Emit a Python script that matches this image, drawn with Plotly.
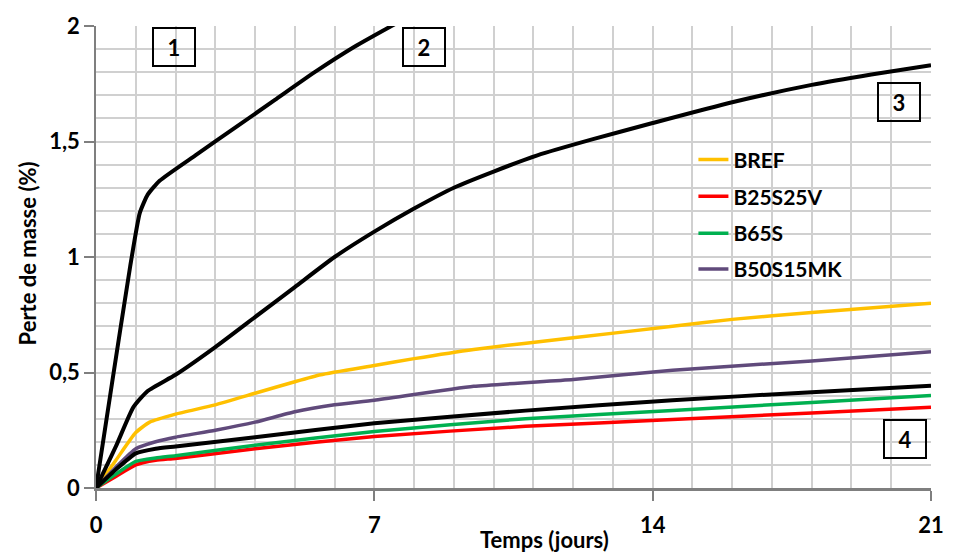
import plotly.graph_objects as go

# ---- data ----
c1_x = [0, 0.4, 0.86, 1.1, 1.3, 1.6, 2.5, 3.5, 4.5, 5.5, 6.5, 7.43, 8.5]
c1_y = [0, 0.45, 0.96, 1.19, 1.27, 1.33, 1.44, 1.56, 1.68, 1.80, 1.91, 2.0, 2.1]

c2_x = [0, 0.5, 0.94, 1.3, 2, 3, 4, 5, 6, 7, 8, 9, 10, 11.1, 12.5, 14, 16, 18, 19.5, 21]
c2_y = [0, 0.18, 0.35, 0.42, 0.49, 0.61, 0.74, 0.87, 1.0, 1.11, 1.21, 1.3, 1.37, 1.44, 1.51, 1.58, 1.67, 1.745, 1.79, 1.83]

c4_x = [0, 0.5, 1, 1.5, 2, 4, 7, 10.8, 14.5, 18, 21]
c4_y = [0, 0.08, 0.15, 0.17, 0.18, 0.22, 0.28, 0.335, 0.38, 0.415, 0.443]

bref_x = [0, 0.5, 1, 1.35, 2, 3, 4, 5, 5.65, 7, 8, 9.5, 12, 14.5, 16, 18, 21]
bref_y = [0, 0.12, 0.24, 0.285, 0.32, 0.36, 0.41, 0.46, 0.49, 0.53, 0.56, 0.6, 0.65, 0.7, 0.73, 0.76, 0.80]

b25_x = [0, 0.5, 1, 1.5, 2, 4, 7, 10.8, 14.5, 18, 21]
b25_y = [0, 0.05, 0.10, 0.12, 0.128, 0.17, 0.223, 0.267, 0.296, 0.325, 0.35]

b65_x = [0, 0.5, 1, 1.5, 2, 4, 7, 10.8, 14.5, 18, 21]
b65_y = [0, 0.06, 0.115, 0.13, 0.14, 0.185, 0.245, 0.30, 0.336, 0.37, 0.40]

b50_x = [0, 0.5, 1, 1.5, 2, 3, 4, 5, 6, 7, 9.5, 12, 14.5, 18, 21]
b50_y = [0, 0.09, 0.17, 0.20, 0.22, 0.25, 0.285, 0.33, 0.36, 0.38, 0.44, 0.47, 0.51, 0.55, 0.59]

x_ticks = [0, 7, 14, 21]
y_ticks = [0, 0.5, 1, 1.5, 2]

box_labels = ["1", "2", "3", "4"]
box_x = [1.96, 8.24, 20.2, 20.35]
box_y = [1.91, 1.91, 1.67, 0.21]

FONT = "Lato"

W, H = 956, 553
L, R, T, B = 95.5, 18.4, 23.3, 65
pw, ph = W - L - R, H - T - B

def px_x(p):
    return (p - L) / pw

def px_y(p):
    return (H - B - p) / ph

fig = go.Figure()

def add(x, y, color, name=None, width=3.5, legend=None):
    fig.add_trace(go.Scatter(
        x=x, y=y, mode="lines", name=("<b>%s</b>" % name) if name else None,
        line=dict(color=color, width=width, shape="spline", smoothing=0.5),
        showlegend=name is not None, legend=legend,
    ))

add(bref_x, bref_y, "#FFC000", "BREF", legend="legend")
add(b25_x, b25_y, "#FF0000", "B25S25V", legend="legend2")
add(b65_x, b65_y, "#00B050", "B65S", legend="legend3")
add(b50_x, b50_y, "#604A7B", "B50S15MK", legend="legend4")
add(c1_x, c1_y, "#000000", width=4)
add(c2_x, c2_y, "#000000", width=4)
add(c4_x, c4_y, "#000000", width=4)

for lab, bx, by in zip(box_labels, box_x, box_y):
    fig.add_annotation(x=bx, y=by, xref="x", yref="y", text="<b>%s</b>" % lab,
                       showarrow=False, font=dict(family=FONT, size=22, color="black"),
                       width=38, height=34, borderwidth=2, bordercolor="black", borderpad=1)

fig.add_annotation(x=px_x(548), y=px_y(540), xref="paper", yref="paper",
                   xanchor="center", yanchor="middle", text="<b>Temps (jours)</b>",
                   showarrow=False, font=dict(family=FONT, size=22, color="black"))
fig.add_annotation(x=px_x(26), y=px_y(252), xref="paper", yref="paper",
                   xanchor="center", yanchor="middle", text="<b>Perte de masse (%)</b>",
                   textangle=-90, showarrow=False, font=dict(family=FONT, size=22, color="black"))

leg_y_px = [158, 195, 232, 268]
leg_common = dict(x=px_x(698), xanchor="left", yanchor="middle", bgcolor="rgba(0,0,0,0)",
                  font=dict(family=FONT, size=21, color="black"), borderwidth=0)
fig.update_layout(
    legend=dict(y=px_y(leg_y_px[0]), **leg_common),
    legend2=dict(y=px_y(leg_y_px[1]), **leg_common),
    legend3=dict(y=px_y(leg_y_px[2]), **leg_common),
    legend4=dict(y=px_y(leg_y_px[3]), **leg_common),
)

fig.update_layout(
    width=W, height=H,
    margin=dict(l=L, r=R, t=T, b=B, pad=0),
    paper_bgcolor="white", plot_bgcolor="white",
    separators=", ",
    font=dict(family=FONT, color="black"),
    xaxis=dict(range=[0, 21], tickvals=x_ticks, ticktext=["<b>%d</b>" % v for v in x_ticks],
               showgrid=True, gridcolor="#D0D0D0", gridwidth=1.5,
               minor=dict(dtick=1, showgrid=True, gridcolor="#D0D0D0", gridwidth=1.5),
               showline=True, linecolor="#7F7F7F", linewidth=2.5,
               ticks="outside", ticklen=10, tickcolor="#7F7F7F", tickwidth=1.5,
               ticklabelstandoff=6,
               tickfont=dict(family=FONT, size=22, color="black"), zeroline=False),
    yaxis=dict(range=[0, 2], tickvals=y_ticks,
               ticktext=["<b>%s</b>" % ("%g" % v).replace(".", ",") for v in y_ticks],
               showgrid=True, gridcolor="#D0D0D0", gridwidth=1.5,
               minor=dict(dtick=0.1, showgrid=True, gridcolor="#D0D0D0", gridwidth=1.5),
               showline=True, linecolor="#7F7F7F", linewidth=1.5,
               ticks="outside", ticklen=10, tickcolor="#7F7F7F", tickwidth=1.5,
               tickfont=dict(family=FONT, size=22, color="black"), zeroline=False),
)

fig.write_html("out.html")
